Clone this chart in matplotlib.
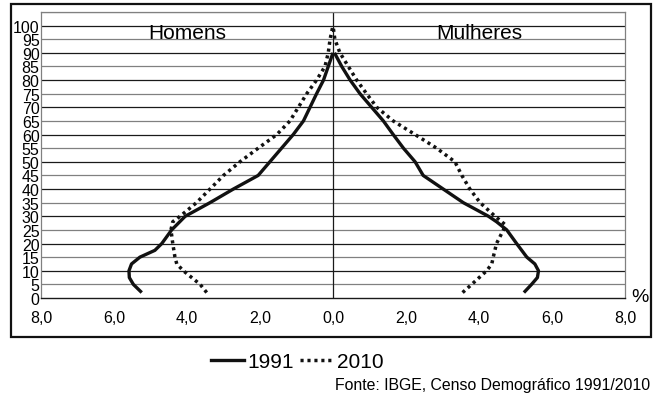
import matplotlib
matplotlib.use("Agg")
import matplotlib.pyplot as plt
from matplotlib.patches import Rectangle
from matplotlib.lines import Line2D

plt.rcParams['font.family'] = ['Liberation Sans', 'DejaVu Sans']

# Men (values in %, plotted to the left)
men_1991_age = [2, 5, 7.5, 10, 12.5, 15, 17.5, 20, 25, 30, 35, 40, 45, 50, 55, 60, 65, 70, 75, 80, 85, 90]
men_1991_val = [5.24, 5.47, 5.58, 5.59, 5.52, 5.29, 4.88, 4.69, 4.42, 4.05, 3.37, 2.73, 2.05, 1.73, 1.41,
                1.09, 0.81, 0.63, 0.45, 0.26, 0.13, 0.0]
men_2010_age = [2, 5, 10, 12.5, 15, 20, 25, 28, 30, 35, 40, 45, 50, 55, 60, 65, 70, 75, 80, 85, 90, 95, 100]
men_2010_val = [3.46, 3.64, 4.10, 4.28, 4.33, 4.39, 4.44, 4.39, 4.19, 3.74, 3.37, 3.00, 2.55, 2.05, 1.54,
                1.18, 0.95, 0.72, 0.45, 0.22, 0.13, 0.08, 0.0]
# Women (values in %, plotted to the right)
women_1991_age = [2, 5, 7.5, 10, 12.5, 15, 17.5, 20, 25, 28, 30, 35, 40, 45, 50, 55, 60, 65, 70, 75, 80, 85, 90]
women_1991_val = [5.23, 5.44, 5.60, 5.63, 5.53, 5.31, 5.17, 5.03, 4.76, 4.48, 4.26, 3.57, 3.02, 2.47, 2.25,
                  1.93, 1.65, 1.38, 1.06, 0.74, 0.47, 0.24, 0.04]
women_2010_age = [2, 5, 10, 12.5, 15, 20, 25, 27, 30, 35, 40, 45, 50, 55, 60, 65, 70, 75, 80, 85, 90, 95, 100]
women_2010_val = [3.55, 3.80, 4.21, 4.35, 4.39, 4.48, 4.67, 4.71, 4.44, 4.03, 3.75, 3.53, 3.34, 2.84, 2.25,
                  1.65, 1.20, 0.92, 0.65, 0.42, 0.19, 0.05, 0.0]

age_ticks = list(range(0, 101, 5))
x_ticks = [-8, -6, -4, -2, 0, 2, 4, 6, 8]
x_tick_labels = ["8,0", "6,0", "4,0", "2,0", "0,0", "2,0", "4,0", "6,0", "8,0"]

W, H = 653, 402
fig = plt.figure(figsize=(W / 100, H / 100), dpi=100)
ax = fig.add_axes([41 / W, 1 - 299 / H, (625 - 41) / W, (299 - 13) / H])
ax.set_xlim(-8, 8)
ax.set_ylim(0, 105)

# horizontal grid lines
for a in age_ticks[1:] + [105]:
    col = '#1a1a1a' if a % 10 == 0 else '#808080'
    ax.axhline(a, color=col, lw=0.9, zorder=1)
ax.axvline(0, color='#1a1a1a', lw=0.9, zorder=1)

for s in ['top', 'right', 'left']:
    ax.spines[s].set_color('#808080')
    ax.spines[s].set_linewidth(0.9)
ax.spines['bottom'].set_color('#1a1a1a')
ax.spines['bottom'].set_linewidth(1.0)

ax.plot([-v for v in men_1991_val], men_1991_age, color='#111111', lw=2.4,
        solid_capstyle='butt', solid_joinstyle='round', zorder=3)
ax.plot(women_1991_val, women_1991_age, color='#111111', lw=2.4,
        solid_capstyle='butt', solid_joinstyle='round', zorder=3)
ax.plot([-v for v in men_2010_val], men_2010_age, color='#111111', lw=2.5,
        linestyle=(0, (0.9, 1.1)), zorder=3)
ax.plot(women_2010_val, women_2010_age, color='#111111', lw=2.5,
        linestyle=(0, (0.9, 1.1)), zorder=3)

ax.set_yticks(age_ticks)
ax.set_yticklabels([str(a) for a in age_ticks], fontsize=11.5)
ax.tick_params(axis='y', length=0, pad=1)
ax.set_xticks(x_ticks)
ax.set_xticklabels(x_tick_labels, fontsize=11.5)
ax.tick_params(axis='x', length=0, pad=9)

ax.text(-4, 95.6, "Homens", ha='center', va='baseline', fontsize=15)
ax.text(4, 95.6, "Mulheres", ha='center', va='baseline', fontsize=15)
fig.text(640 / W, 1 - 297 / H, "%", ha='center', va='center', fontsize=14)

handles = [Line2D([0], [0], color='#111111', lw=2.4),
           Line2D([0], [0], color='#111111', lw=2.5, linestyle=(0, (0.9, 1.1)))]
fig.legend(handles, ["1991", "2010"], loc='center', bbox_to_anchor=(297 / W, 1 - 363 / H),
           ncol=2, frameon=False, fontsize=15, handlelength=1.6, handletextpad=0.15,
           columnspacing=0.3, borderpad=0)

fig.text(650 / W, 1 - 386 / H, "Fonte: IBGE, Censo Demográfico 1991/2010", ha='right',
         va='center', fontsize=11.4)

fig.add_artist(Rectangle((11 / W, 1 - 338 / H), (651 - 11) / W, (338 - 5) / H,
                         transform=fig.transFigure, fill=False, lw=1.6, ec='#111111'))

fig.savefig("out.png", dpi=100)
